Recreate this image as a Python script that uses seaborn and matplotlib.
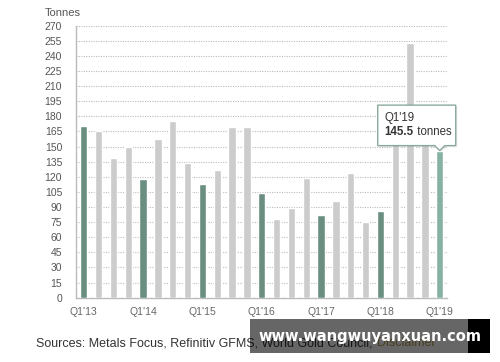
import matplotlib
matplotlib.use("Agg")
import matplotlib.pyplot as plt
import matplotlib.transforms as mtransforms
from matplotlib.patches import Polygon, Rectangle
import seaborn as sns

quarters = ["Q1'13", "Q2'13", "Q3'13", "Q4'13",
            "Q1'14", "Q2'14", "Q3'14", "Q4'14",
            "Q1'15", "Q2'15", "Q3'15", "Q4'15",
            "Q1'16", "Q2'16", "Q3'16", "Q4'16",
            "Q1'17", "Q2'17", "Q3'17", "Q4'17",
            "Q1'18", "Q2'18", "Q3'18", "Q4'18",
            "Q1'19"]
values = [170, 165, 138.5, 150,
          118, 158, 175, 134,
          113, 127, 169, 169.5,
          104, 78, 89, 119,
          82, 96, 123.5, 75.5,
          86, 158, 253, 154,
          145.5]
tick_labels = ["Q1'13", "Q1'14", "Q1'15", "Q1'16", "Q1'17", "Q1'18", "Q1'19"]
y_ticks = list(range(0, 271, 15))

DARK = "#6a8e80"
LAST = "#86b3a1"
GRAY = "#cccccc"
colors = []
for i, q in enumerate(quarters):
    if i == len(quarters) - 1:
        colors.append(LAST)
    elif q.startswith("Q1"):
        colors.append(DARK)
    else:
        colors.append(GRAY)

sns.set_style("white")
plt.rcParams["font.family"] = ["Liberation Sans", "DejaVu Sans"]

fig = plt.figure(figsize=(5.0, 3.62), dpi=100)
ax = fig.add_axes([0.152, 0.1776, 0.742, 0.7514])

sns.barplot(x=quarters, y=values, hue=quarters, palette=colors, legend=False,
            width=0.49, saturation=1, ax=ax, zorder=3)

ax.set_xlim(-0.52, len(quarters) - 1 + 0.49)
ax.set_ylim(0, 270)
ax.set_yticks(y_ticks)
ax.set_yticklabels([str(t) for t in y_ticks], fontsize=7.5, color="#555555")
tick_pos = [i for i, q in enumerate(quarters) if q in tick_labels]
ax.set_xticks(tick_pos)
ax.set_xticklabels(tick_labels, fontsize=7.5, color="#666666")
ax.tick_params(axis="y", length=0, pad=10)
ax.tick_params(axis="x", length=0, pad=7)
ax.set_xlabel("")
ax.set_ylabel("")

for t in y_ticks[1:]:
    ax.axhline(t, color="#bbbbbb", lw=0.8, ls=(0, (1, 1.2)), zorder=1)

for s in ["top", "right"]:
    ax.spines[s].set_visible(False)
ax.spines["left"].set_color("#bbbbbb")
ax.spines["bottom"].set_color("#bbbbbb")
ax.spines["left"].set_linewidth(1.0)
ax.spines["bottom"].set_linewidth(1.0)

fig.text(45 / 500, 1 - 13 / 362, "Tonnes", fontsize=8, color="#555555",
         ha="left", va="center")

# Tooltip anchored at the last bar's top
px, py = ax.transData.transform((len(quarters) - 1, values[-1]))
L, R = px - 62, px + 16
B, T = py + 5.5, py + 46
verts = [(L, B), (px - 5, B), (px, py + 0.5), (px + 5, B), (R, B), (R, T), (L, T)]
shadow = Polygon([(x + 1.5, y - 1.5) for x, y in verts], closed=True,
                 transform=mtransforms.IdentityTransform(),
                 facecolor="#000000", alpha=0.08, edgecolor="none", zorder=9)
fig.patches.append(shadow)
tip = Polygon(verts, closed=True, transform=mtransforms.IdentityTransform(),
              facecolor="white", edgecolor="#8aa99b", lw=1.0, zorder=10)
fig.patches.append(tip)
fig.text((L + 7) / 500, (py + 33) / 362, "Q1'19", fontsize=8.3, color="#333333",
         ha="left", va="center", zorder=11)
b = fig.text((L + 7) / 500, (py + 19) / 362, "145.5", fontsize=8.3, color="#333333",
             fontweight="bold", ha="left", va="center", zorder=11)
renderer = fig.canvas.get_renderer()
bb = b.get_window_extent(renderer)
fig.text(bb.x1 / 500, (py + 19) / 362, " tonnes", fontsize=8.3, color="#333333",
         ha="left", va="center", zorder=11)

# Sources line
s1 = fig.text(36.5 / 500, 1 - 343 / 362, "Sources: Metals Focus, Refinitiv GFMS, World Gold Council, ",
              fontsize=9, color="#333333", ha="left", va="center")
bb = s1.get_window_extent(renderer)
fig.text(bb.x1 / 500, 1 - 343 / 362, "Disclaimer", fontsize=9, color="#b09548",
         ha="left", va="center")

# Watermark overlay
fig.patches.append(Rectangle((250 / 500, 1 - 352.7 / 362), 218 / 500, 33.7 / 362,
                             transform=fig.transFigure, facecolor="#000000",
                             alpha=0.6, edgecolor="none", zorder=20))
fig.patches.append(Rectangle((468 / 500, 1 - 352.7 / 362), 22 / 500, 33.7 / 362,
                             transform=fig.transFigure, facecolor="#000000",
                             edgecolor="none", zorder=20))
fig.text(370 / 500, 1 - 336 / 362, "www.wangwuyanxuan.com", fontsize=10.5,
         fontweight="bold", family="DejaVu Sans", color="white",
         ha="center", va="center", zorder=21)

fig.savefig("out.png", dpi=100)
